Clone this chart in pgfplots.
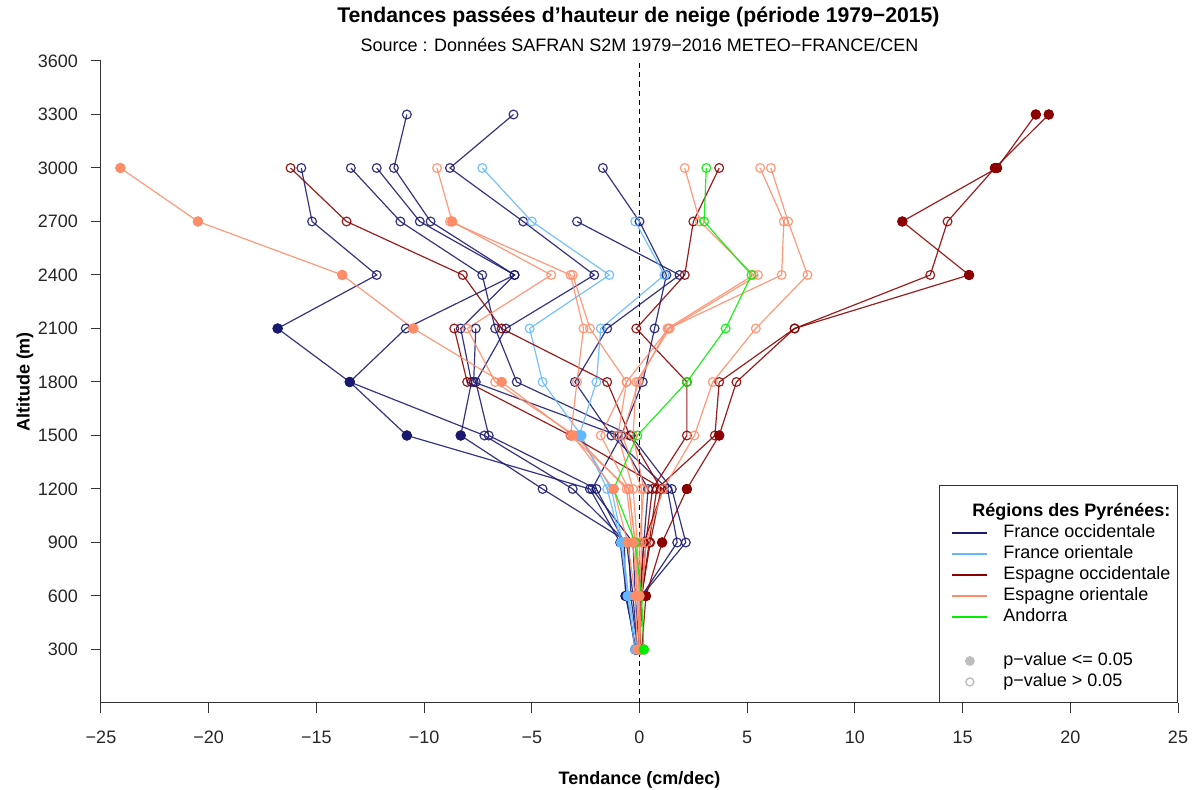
\documentclass[border=0pt]{standalone}
\usepackage{fontspec}
\setmainfont{Liberation Sans}
\usepackage{pgfplots}
\pgfplotsset{compat=1.18}

\definecolor{cFO}{HTML}{191970}
\definecolor{cFR}{HTML}{63B8FF}
\definecolor{cEO}{HTML}{8B0000}
\definecolor{cER}{HTML}{FF8C69}
\definecolor{cAN}{HTML}{00EE00}
\definecolor{axisInk}{HTML}{333333}
\definecolor{pGrey}{HTML}{BEBEBE}

\pgfplotsset{
  trend/.style={line width=0.6pt, mark=o, mark size=2.2pt,
    mark options={solid, line width=0.6pt}, opacity=0.88},
  sig/.style={only marks, mark=*, mark size=2.4pt, mark options={draw=none}},
  legline/.style={legend image code/.code={\path[draw=none, fill=none] (0pt,0pt) rectangle (20.5pt,0pt);
    \draw[#1, line width=1pt] (3pt,0pt) -- (20.5pt,0pt);}},
  legblank/.style={legend image code/.code={\path[draw=none, fill=none] (0pt,0pt) rectangle (20.5pt,0pt);}},
}

\begin{document}
\begin{tikzpicture}
\useasboundingbox (-50.5pt,-43.5pt) rectangle (547pt,351.5pt);
\begin{axis}[
  scale only axis, width=538.5pt, height=321pt,
  xmin=-25, xmax=25, ymin=0, ymax=3600,
  axis lines=left, axis line style={axisInk, line width=0.5pt, -},
  tick align=outside, major tick length=5pt,
  tick style={axisInk, line width=0.5pt},
  xtick={-25,-20,-15,-10,-5,0,5,10,15,20,25},
  xticklabels={−25,−20,−15,−10,−5,0,5,10,15,20,25},
  ytick={300,600,900,1200,1500,1800,2100,2400,2700,3000,3300,3600},
  yticklabels={300,600,900,1200,1500,1800,2100,2400,2700,3000,3300,3600},
  tick label style={font=\fontsize{9}{10}\selectfont, text=black!85},
  xticklabel style={yshift=-5.5pt},
  yticklabel style={xshift=-3pt},
  every axis x label/.style={at={(axis description cs:0.5,-0.12)}, anchor=center},
  every axis y label/.style={at={(axis description cs:-0.0706,0.5)}, rotate=90, anchor=center},
  label style={font=\bfseries\fontsize{9}{10}\selectfont},
  xlabel={Tendance (cm/dec)}, ylabel={Altitude (m)},
  clip=false,
  legend style={at={(1,0)}, anchor=south east, draw=axisInk, line width=0.5pt,
    fill=white, font=\fontsize{9}{10}\selectfont,
    inner xsep=3.5pt, inner ysep=5pt, row sep=0pt,
    nodes={inner xsep=0pt, inner ysep=1.5pt, text height=6.2pt, text depth=1.3pt},
    /tikz/every odd column/.append style={column sep=7.5pt}},
  legend cell align=left,
]
% legend entries first
\addlegendimage{legblank}
\addlegendentry[text height=9.2pt]{\hspace*{-15.5pt}\textbf{Régions des Pyrénées:}}
\addlegendimage{legline=cFO}
\addlegendentry{France occidentale}
\addlegendimage{legline=cFR}
\addlegendentry{France orientale}
\addlegendimage{legline=cEO}
\addlegendentry{Espagne occidentale}
\addlegendimage{legline=cER}
\addlegendentry{Espagne orientale}
\addlegendimage{legline=cAN}
\addlegendentry{Andorra}
\addlegendimage{legblank}
\addlegendentry[text height=7.4pt]{}
\addlegendimage{legend image code/.code={\path[draw=none, fill=none] (0pt,0pt) rectangle (20.5pt,0pt);
  \fill[pGrey] (11.75pt,0pt) circle (2.2pt);}}
\addlegendentry{p−value <= 0.05}
\addlegendimage{legend image code/.code={\path[draw=none, fill=none] (0pt,0pt) rectangle (20.5pt,0pt);
  \draw[pGrey, line width=0.7pt] (11.75pt,0pt) circle (2pt);}}
\addlegendentry{p−value > 0.05}

% reference line at zero
\addplot[black, line width=0.6pt, dash pattern=on 2.6pt off 2pt, forget plot]
  coordinates {(0,0) (0,3600)};

% France occidentale
\addplot[cFO, trend] coordinates {(-15.7,3000) (-15.2,2700) (-12.2,2400) (-16.8,2100) (-13.45,1800) (-10.8,1500) (-2.3,1200) (-0.9,900) (-0.6,600) (-0.2,300)};
\addplot[cFO, trend] coordinates {(-13.4,3000) (-11.1,2700) (-7.3,2400) (-6.7,2100) (-5.7,1800) (-0.4,1500) (1.5,1200) (2.15,900) (0.1,600) (0,300)};
\addplot[cFO, trend] coordinates {(-12.2,3000) (-10.2,2700) (-5.8,2400) (-10.85,2100) (-13.45,1800) (-7.2,1500) (-3.1,1200) (-0.6,900) (-0.3,600) (-0.1,300)};
\addplot[cFO, trend] coordinates {(-10.8,3300) (-11.4,3000) (-9.7,2700) (-5.8,2400) (-8.3,2100) (-7.8,1800) (-8.3,1500) (-4.5,1200) (-0.5,900) (-0.4,600) (-0.1,300)};
\addplot[cFO, trend] coordinates {(-5.85,3300) (-8.8,3000) (-5.4,2700) (-2.1,2400) (-6.2,2100) (-7.6,1800) (-7.0,1500) (-2.0,1200) (-0.7,900) (-0.65,600) (-0.15,300)};
\addplot[cFO, trend] coordinates {(-2.9,2700) (1.86,2400) (-1.5,2100) (-3.0,1800) (-1.3,1500) (1.3,1200) (1.75,900) (0.1,600) (0,300)};
\addplot[cFO, trend] coordinates {(-1.7,3000) (0.0,2700) (1.25,2400) (0.7,2100) (0.15,1800) (-0.85,1500) (-2.2,1200) (-0.3,900) (-0.2,600) (0,300)};
\addplot[cFO, trend] coordinates {(-7.6,2100) (-7.7,1800) (-1.0,1500) (0.4,1200) (0.2,900) (0,600) (0,300)};

% France orientale
\addplot[cFR, trend] coordinates {(-7.3,3000) (-5.0,2700) (-1.4,2400) (-5.1,2100) (-4.5,1800) (-2.7,1500) (-1.5,1200) (-0.85,900) (-0.55,600) (-0.2,300)};
\addplot[cFR, trend] coordinates {(-0.2,2700) (1.16,2400) (-1.8,2100) (-2.0,1800) (-2.8,1500) (-1.3,1200) (-0.8,900) (-0.5,600) (-0.1,300)};

% Espagne occidentale
\addplot[cEO, trend] coordinates {(18.4,3300) (16.6,3000) (12.2,2700) (15.3,2400) (7.2,2100) (4.5,1800) (3.7,1500) (2.2,1200) (1.05,900) (0.3,600) (0.1,300)};
\addplot[cEO, trend] coordinates {(19.0,3300) (16.5,3000) (14.3,2700) (13.5,2400) (7.2,2100) (3.7,1800) (3.5,1500) (0.8,1200) (0.45,900) (0.1,600) (0.0,300)};
\addplot[cEO, trend] coordinates {(3.7,3000) (2.5,2700) (2.1,2400) (-0.15,2100) (2.2,1800) (2.2,1500) (0.6,1200) (0.3,900) (0.1,600) (0,300)};
\addplot[cEO, trend] coordinates {(-16.2,3000) (-13.6,2700) (-8.2,2400) (-6.4,2100) (-1.5,1800) (-0.45,1500) (1.0,1200) (0.5,900) (0.1,600) (0,300)};
\addplot[cEO, trend] coordinates {(-8.6,2100) (-8.0,1800) (-3.2,1500) (1.1,1200) (0.2,900) (0.05,600) (0,300)};

% Espagne orientale
\addplot[cER, trend] coordinates {(-24.1,3000) (-20.5,2700) (-13.8,2400) (-10.5,2100) (-6.4,1800) (-3.1,1500) (-1.2,1200) (-0.55,900) (-0.2,600) (-0.1,300)};
\addplot[cER, trend] coordinates {(-9.4,3000) (-8.7,2700) (-4.1,2400) (-8.0,2100) (-6.7,1800) (-3.0,1500) (-0.6,1200) (-0.3,900) (-0.1,600) (0,300)};
\addplot[cER, trend] coordinates {(-8.8,2700) (-3.2,2400) (-2.6,2100) (-2.9,1800) (-3.2,1500) (-0.5,1200) (-0.2,900) (0,600) (0,300)};
\addplot[cER, trend] coordinates {(-3.1,2400) (-2.3,2100) (-0.6,1800) (-1.0,1500) (-0.3,1200) (-0.1,900) (0,600) (0,300)};
\addplot[cER, trend] coordinates {(2.1,3000) (2.8,2700) (5.3,2400) (1.3,2100) (-0.05,1800) (-0.8,1500) (0.1,1200) (0.1,900) (0,600) (0,300)};
\addplot[cER, trend] coordinates {(5.6,3000) (6.7,2700) (6.6,2400) (1.35,2100) (-0.6,1800) (-1.8,1500) (-0.5,1200) (-0.2,900) (-0.1,600) (0,300)};
\addplot[cER, trend] coordinates {(6.1,3000) (6.9,2700) (7.8,2400) (5.4,2100) (3.4,1800) (2.55,1500) (1.1,1200) (0.3,900) (0.1,600) (0,300)};
\addplot[cER, trend] coordinates {(5.5,2400) (1.4,2100) (-0.15,1800) (-0.3,1500) (0.2,1200) (0,900) (0,600) (0,300)};

% Andorra
\addplot[cAN, trend] coordinates {(3.1,3000) (3.0,2700) (5.2,2400) (4.0,2100) (2.2,1800) (-0.1,1500) (-1.2,1200) (-0.2,900) (0.1,600) (0.2,300)};

% significant points (p-value <= 0.05)
\addplot[cFO, sig] coordinates {(-16.8,2100) (-13.45,1800) (-10.8,1500) (-8.3,1500) (-0.6,600) (-0.65,600) (-0.2,300) (-0.15,300)};
\addplot[cFR, sig] coordinates {(-2.7,1500) (-2.8,1500) (-0.85,900) (-0.8,900) (-0.55,600) (-0.5,600) (-0.2,300) (-0.1,300)};
\addplot[cEO, sig] coordinates {(18.4,3300) (19.0,3300) (16.6,3000) (16.5,3000) (12.2,2700) (15.3,2400) (3.7,1500) (2.2,1200) (1.05,900) (0.3,600)};
\addplot[cER, sig] coordinates {(-24.1,3000) (-20.5,2700) (-8.7,2700) (-13.8,2400) (-10.5,2100) (-6.4,1800) (-3.1,1500) (-1.2,1200) (-0.55,900) (-0.3,900) (-0.2,600) (-0.1,600) (0,600) (-0.1,300) (0,300)};
\addplot[cAN, sig] coordinates {(0.2,300)};

% titles
\node[font=\bfseries\fontsize{10.6}{12}\selectfont] at (axis description cs:0.499,1.0685) {Tendances passées d’hauteur de neige (période 1979−2015)};
\node[font=\fontsize{9}{10}\selectfont] at (axis description cs:0.5,1.025) {Source : Données SAFRAN S2M 1979−2016 METEO−FRANCE/CEN};
\end{axis}
\end{tikzpicture}
\end{document}
